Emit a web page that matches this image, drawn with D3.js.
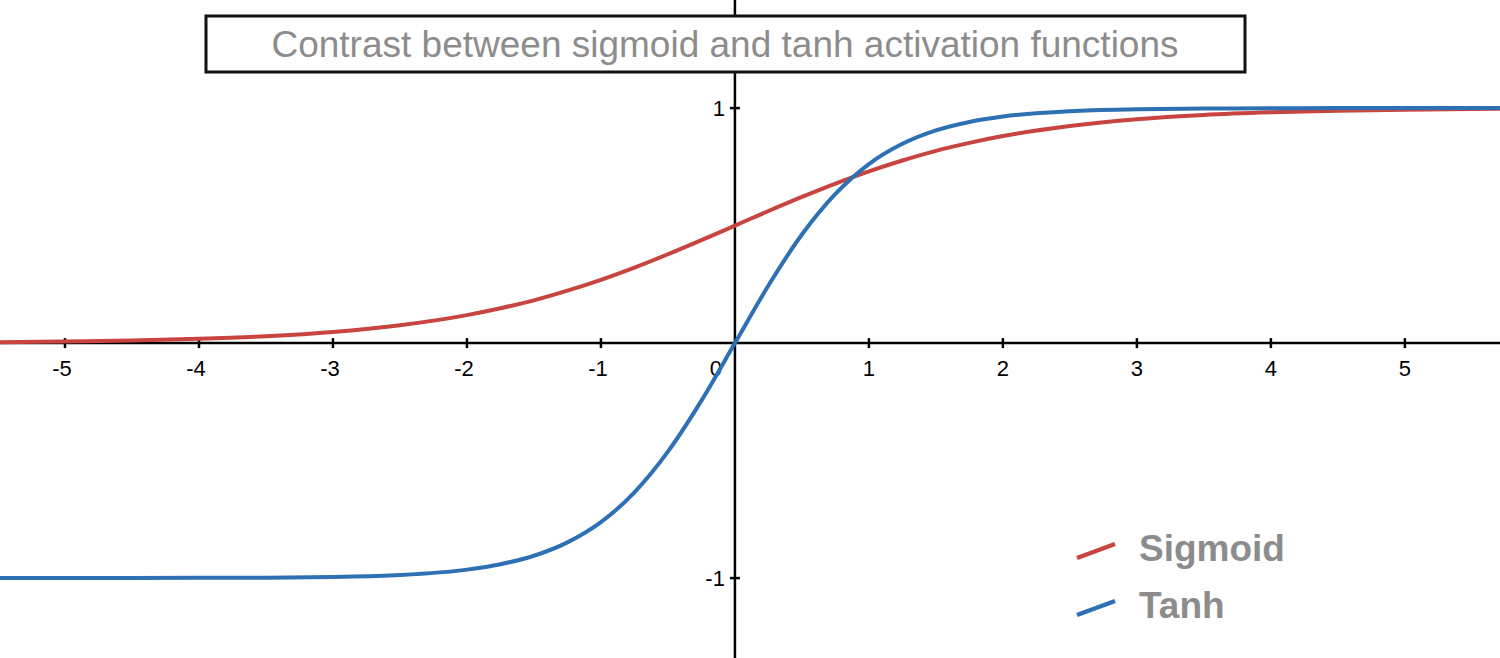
<!DOCTYPE html>
<html><head><meta charset="utf-8">
<script src="https://cdn.jsdelivr.net/npm/d3@7"></script>
<style>body{margin:0;background:#fff}svg{display:block}</style>
</head><body>
<script>
// values
const xs      = [-5.5,-5,-4.5,-4,-3.5,-3,-2.5,-2,-1.75,-1.5,-1.25,-1,-0.75,-0.5,-0.25,0,0.25,0.5,0.75,1,1.25,1.5,1.75,2,2.5,3,3.5,4,4.5,5,5.5,5.75];
const sigmoid = [0.004,0.007,0.011,0.018,0.029,0.047,0.076,0.119,0.148,0.182,0.223,0.269,0.321,0.378,0.438,0.5,0.562,0.622,0.679,0.731,0.777,0.818,0.852,0.881,0.924,0.953,0.971,0.982,0.989,0.993,0.996,0.997];
const tanh    = [-1,-1,-1,-0.999,-0.998,-0.995,-0.987,-0.964,-0.941,-0.905,-0.848,-0.762,-0.635,-0.462,-0.245,0,0.245,0.462,0.635,0.762,0.848,0.905,0.941,0.964,0.987,0.995,0.998,0.999,1,1,1,1];
const xTicks = [-5,-4,-3,-2,-1,0,1,2,3,4,5];
const yTicks = [-1,1];
const series = [{name:"Sigmoid", values:sigmoid, color:"#c74440"},
                {name:"Tanh", values:tanh, color:"#2d70b3"}];

const W = 1500, H = 658;
const x = d3.scaleLinear().domain([-5.485, 5.71]).range([0, W]);
const y = d3.scaleLinear().domain([-1.34, 1.46]).range([H, 0]);

const svg = d3.select("body").append("svg").attr("width", W).attr("height", H)
  .style("font-family", "'Liberation Sans', Arial, sans-serif");

// axes
svg.append("line").attr("x1",0).attr("x2",W).attr("y1",y(0)).attr("y2",y(0)).attr("stroke","#000").attr("stroke-width",2.5);
svg.append("line").attr("x1",x(0)).attr("x2",x(0)).attr("y1",0).attr("y2",H).attr("stroke","#000").attr("stroke-width",2.5);

svg.selectAll(".xt").data(xTicks.filter(d => d !== 0)).enter().append("line")
  .attr("x1",d=>x(d)).attr("x2",d=>x(d)).attr("y1",y(0)-5).attr("y2",y(0)+5).attr("stroke","#000").attr("stroke-width",2.5);
svg.selectAll(".xl").data(xTicks).enter().append("text")
  .attr("x",d=>d === 0 ? x(0)-19 : x(d) + (d < 0 ? -3 : 0)).attr("y",y(0)+33)
  .attr("text-anchor","middle").attr("font-size",22).text(d=>d);

svg.selectAll(".yt").data(yTicks).enter().append("line")
  .attr("x1",x(0)-5).attr("x2",x(0)+5).attr("y1",d=>y(d)).attr("y2",d=>y(d)).attr("stroke","#000").attr("stroke-width",2.5);
svg.selectAll(".yl").data(yTicks).enter().append("text")
  .attr("x",x(0)-10).attr("y",d=>y(d)+8).attr("text-anchor","end").attr("font-size",22).text(d=>d);

// curves
const line = d3.line().x((d,i)=>x(xs[i])).y(d=>y(d)).curve(d3.curveMonotoneX);
svg.selectAll(".curve").data(series).enter().append("path")
  .attr("d",d=>line(d.values)).attr("fill","none").attr("stroke",d=>d.color).attr("stroke-width",4);

// title box
svg.append("rect").attr("x",206).attr("y",16).attr("width",1039).attr("height",56)
  .attr("fill","#fff").attr("stroke","#111").attr("stroke-width",3);
svg.append("text").attr("x",725).attr("y",57).attr("text-anchor","middle")
  .attr("font-size",37).attr("fill","#8c8c8c").text("Contrast between sigmoid and tanh activation functions");

// legend
const lg = svg.selectAll(".lg").data(series).enter().append("g")
  .attr("transform",(d,i)=>`translate(1077,${558 + i*57})`);
lg.append("line").attr("x1",0).attr("y1",0).attr("x2",38).attr("y2",-14)
  .attr("stroke",d=>d.color).attr("stroke-width",4.5);
lg.append("text").attr("x",62).attr("y",3).attr("font-size",37).attr("font-weight","bold")
  .attr("fill","#8c8c8c").text(d=>d.name);
</script>
</body></html>
